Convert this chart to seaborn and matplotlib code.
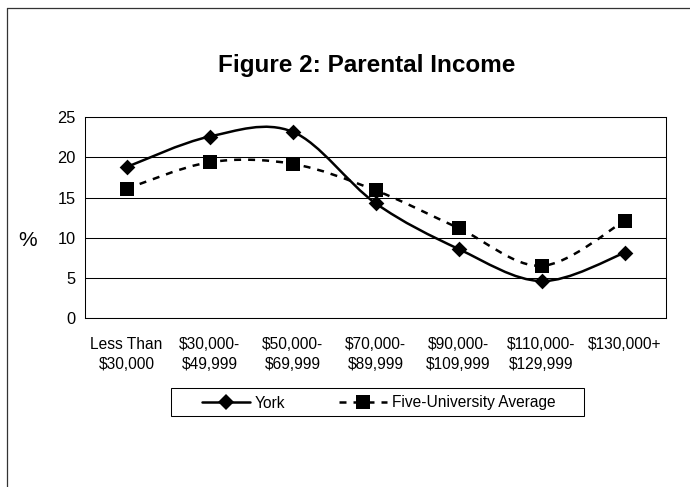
import numpy as np
import matplotlib
matplotlib.use("Agg")
import matplotlib.pyplot as plt
import seaborn as sns
from matplotlib.path import Path
from matplotlib.patches import PathPatch, Rectangle
from matplotlib.lines import Line2D

# ---- data ----
categories = ["Less Than\n$30,000", "$30,000-\n$49,999", "$50,000-\n$69,999",
              "$70,000-\n$89,999", "$90,000-\n$109,999", "$110,000-\n$129,999",
              "$130,000+"]
york = [18.8, 22.6, 23.2, 14.3, 8.6, 4.6, 8.1]
five_avg = [16.1, 19.4, 19.2, 15.9, 11.2, 6.5, 12.1]
series_names = ["York", "Five-University Average"]
y_ticks = [0, 5, 10, 15, 20, 25]
title = "Figure 2: Parental Income"

sns.set_style("white")
plt.rcParams["font.family"] = ["Liberation Sans", "DejaVu Sans"]
plt.rcParams["text.color"] = "black"
plt.rcParams["xtick.color"] = "black"
plt.rcParams["ytick.color"] = "black"
plt.rcParams["axes.labelcolor"] = "black"

W, H = 690, 487
fig = plt.figure(figsize=(W / 100, H / 100), dpi=100)
fig.patch.set_facecolor("white")

ax = fig.add_axes([85 / W, 1 - 318 / H, 581 / W, 200.7 / H])
x = np.arange(len(categories))


def smooth_path(xs, ys):
    P = np.column_stack([xs, ys]).astype(float)
    n = len(P)
    verts = [P[0]]
    codes = [Path.MOVETO]
    for i in range(n - 1):
        p0 = P[i - 1] if i > 0 else P[i]
        p3 = P[i + 2] if i + 2 < n else P[i + 1]
        c1 = P[i] + (P[i + 1] - p0) / 6.0
        c2 = P[i + 1] - (p3 - P[i]) / 6.0
        verts += [c1, c2, P[i + 1]]
        codes += [Path.CURVE4] * 3
    return Path(verts, codes)


lw = 1.8
dash = (0, (2.8, 2.8))
ax.add_patch(PathPatch(smooth_path(x, york), fill=False, edgecolor="black",
                       lw=lw, zorder=3, capstyle="butt", joinstyle="round"))
ax.add_patch(PathPatch(smooth_path(x, five_avg), fill=False, edgecolor="black",
                       lw=lw, ls=dash, zorder=3, capstyle="butt"))

sq = 9.4
dm = 8.0
sns.scatterplot(x=x, y=york, marker="D", s=dm ** 2, color="black",
                edgecolor="black", linewidth=0, ax=ax, zorder=4, legend=False)
sns.scatterplot(x=x, y=five_avg, marker="s", s=sq ** 2, color="black",
                edgecolor="black", linewidth=0, ax=ax, zorder=4, legend=False)

ax.set_xlim(-0.5, len(categories) - 0.5)
ax.set_ylim(y_ticks[0], y_ticks[-1])
ax.set_yticks(y_ticks)
ax.set_yticklabels([str(v) for v in y_ticks])
ax.set_xticks(np.arange(-0.5, len(categories), 1.0))
ax.set_xticklabels([])
ax.set_xticks(x, minor=True)
ax.set_xticklabels([c.replace("$", r"\$") for c in categories], minor=True,
                   linespacing=1.4)
ax.tick_params(axis="x", which="major", direction="out", length=3.8,
               width=0.75, color="black")
ax.tick_params(axis="x", which="minor", length=0, pad=14, labelsize=11.2)
ax.tick_params(axis="y", direction="out", length=3.8, width=0.75,
               color="black", pad=3, labelsize=11.8)
ax.set_xlabel("")
ax.set_ylabel("")
for s in ax.spines.values():
    s.set_visible(True)
    s.set_color("black")
    s.set_linewidth(0.75)
ax.yaxis.grid(True, color="black", lw=0.75)
ax.xaxis.grid(False)
ax.set_axisbelow(True)

# texts
fig.text(366.5 / W, 1 - 72 / H, title, ha="center", va="baseline",
         fontsize=17.5, fontweight="bold", color="black")
fig.text(28 / W, 1 - 240 / H, "%", ha="center", va="center", fontsize=15,
         color="black")

# legend
handles = [
    Line2D([], [], color="black", lw=lw, marker="D", markersize=dm,
           markeredgewidth=0),
    Line2D([], [], color="black", lw=lw, ls=dash, marker="s", markersize=sq,
           markeredgewidth=0),
]
fig.legend(handles, series_names, loc="center",
           bbox_to_anchor=(378.5 / W, 1 - 403 / H), ncol=2, frameon=False,
           fontsize=11.2, handlelength=3.08, handletextpad=0.3,
           columnspacing=3.5, borderpad=0, borderaxespad=0,
           labelcolor="black")
fig.add_artist(Rectangle((171 / W, 1 - 416 / H), 413 / W, 28 / H,
                         transform=fig.transFigure, fill=False,
                         edgecolor="black", lw=0.75))

# outer chart border (left and top visible)
fig.add_artist(Line2D([6.5 / W, 6.5 / W], [0, 1 - 7.5 / H], color="#333333",
                      lw=0.9, transform=fig.transFigure))
fig.add_artist(Line2D([6.5 / W, 1], [1 - 7.5 / H, 1 - 7.5 / H],
                      color="#333333", lw=0.9, transform=fig.transFigure))

fig.savefig("out.png", dpi=100)
